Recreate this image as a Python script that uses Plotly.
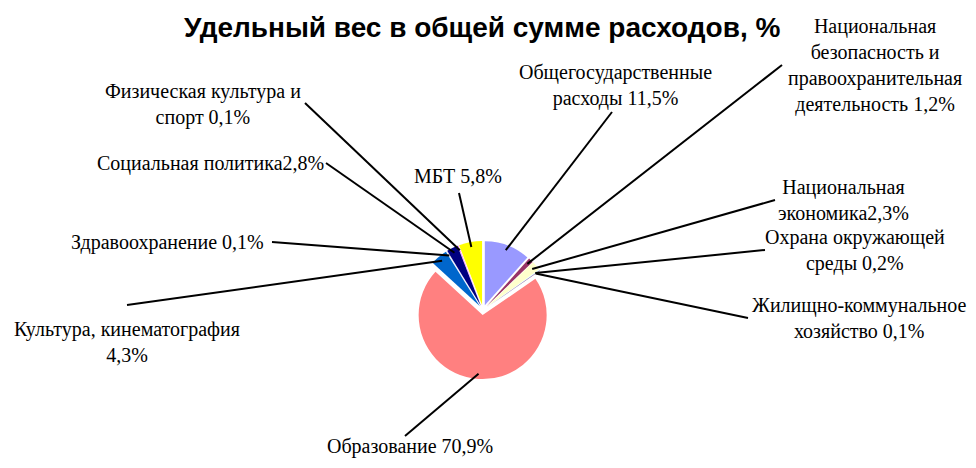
import math
import plotly.graph_objects as go

# ---- data ----
categories = [
    "Общегосударственные расходы",
    "Национальная безопасность и правоохранительная деятельность",
    "Национальная экономика",
    "Охрана окружающей среды",
    "Жилищно-коммунальное хозяйство",
    "Образование",
    "Культура, кинематография",
    "Здравоохранение",
    "Социальная политика",
    "Физическая культура и спорт",
    "МБТ",
]
values = [11.5, 1.2, 2.3, 0.2, 0.1, 70.9, 4.3, 0.1, 2.8, 0.1, 5.8]
label_texts = [
    "Общегосударственные<br>расходы 11,5%",
    "Национальная<br>безопасность и<br>правоохранительная<br>деятельность 1,2%",
    "Национальная<br>экономика2,3%",
    "Охрана окружающей<br>среды 0,2%",
    "Жилищно-коммунальное<br>хозяйство 0,1%",
    "Образование 70,9%",
    "Культура, кинематография<br>4,3%",
    "Здравоохранение 0,1%",
    "Социальная политика2,8%",
    "Физическая культура и<br>спорт 0,1%",
    "МБТ 5,8%",
]
colors = ["#9999FF", "#993366", "#FFFFCC", "#CCFFFF", "#660066", "#FF8080",
          "#0066CC", "#CCCCFF", "#000080", "#FF00FF", "#FFFF00"]

# ---- layout (page pixel positions; page body has an 8px margin) ----
OFF = 8
W, H = 976 - 2 * OFF, 468 - 2 * OFF
CX, CY, R = 483, 310, 64
PULL = 0.08
label_pos = [(615, 85), (875, 66), (843, 200), (855, 250), (859, 318), (410, 460),
             (127, 342), (167, 242), (210, 163), (203, 105), (458, 176)]
line_start = [(612, 112), (782, 65), (775, 200), (765, 250), (748, 318), (405, 436),
              (127, 305), (272, 242), (326, 163), (305, 103), (459, 193)]


def px(x):
    return (x - OFF) / W


def py(y):
    return 1 - (y - OFF) / H


box = R * (2 + 2 * PULL)
dom_x = [px(CX - box / 2), px(CX + box / 2)]
dom_y = [py(CY + box / 2), py(CY - box / 2)]

fig = go.Figure(go.Pie(
    labels=categories, values=values, sort=False, direction="clockwise",
    rotation=0, pull=[PULL] * len(values), textinfo="none", hoverinfo="label+percent",
    marker=dict(colors=colors, line=dict(width=0)),
    domain=dict(x=dom_x, y=dom_y), showlegend=False,
))

total = sum(values)
cum = 0.0
shapes, annotations = [], []
for i, v in enumerate(values):
    mid = (cum + v / 2) / total * 2 * math.pi
    cum += v
    rr = R * (PULL + 0.92)
    ex = CX + rr * math.sin(mid)
    ey = CY - rr * math.cos(mid)
    sx, sy = line_start[i]
    shapes.append(dict(type="line", xref="paper", yref="paper",
                       x0=px(sx), y0=py(sy), x1=px(ex), y1=py(ey),
                       line=dict(color="black", width=2)))
    lx, ly = label_pos[i]
    annotations.append(dict(text=label_texts[i], xref="paper", yref="paper",
                            x=px(lx), y=py(ly), xanchor="center",
                            yanchor="bottom" if ly >= 455 else "middle",
                            showarrow=False, align="center",
                            font=dict(family="Liberation Serif", size=20, color="black")))

annotations.append(dict(text="<b>Удельный вес в общей сумме расходов, %</b>",
                        xref="paper", yref="paper", x=px(482), y=py(28),
                        xanchor="center", yanchor="middle", showarrow=False,
                        font=dict(family="Liberation Sans", size=28, color="black")))

fig.update_layout(width=W, height=H, margin=dict(l=0, r=0, t=0, b=0),
                  paper_bgcolor="white", plot_bgcolor="white",
                  shapes=shapes, annotations=annotations)
fig.write_html("out.html")
